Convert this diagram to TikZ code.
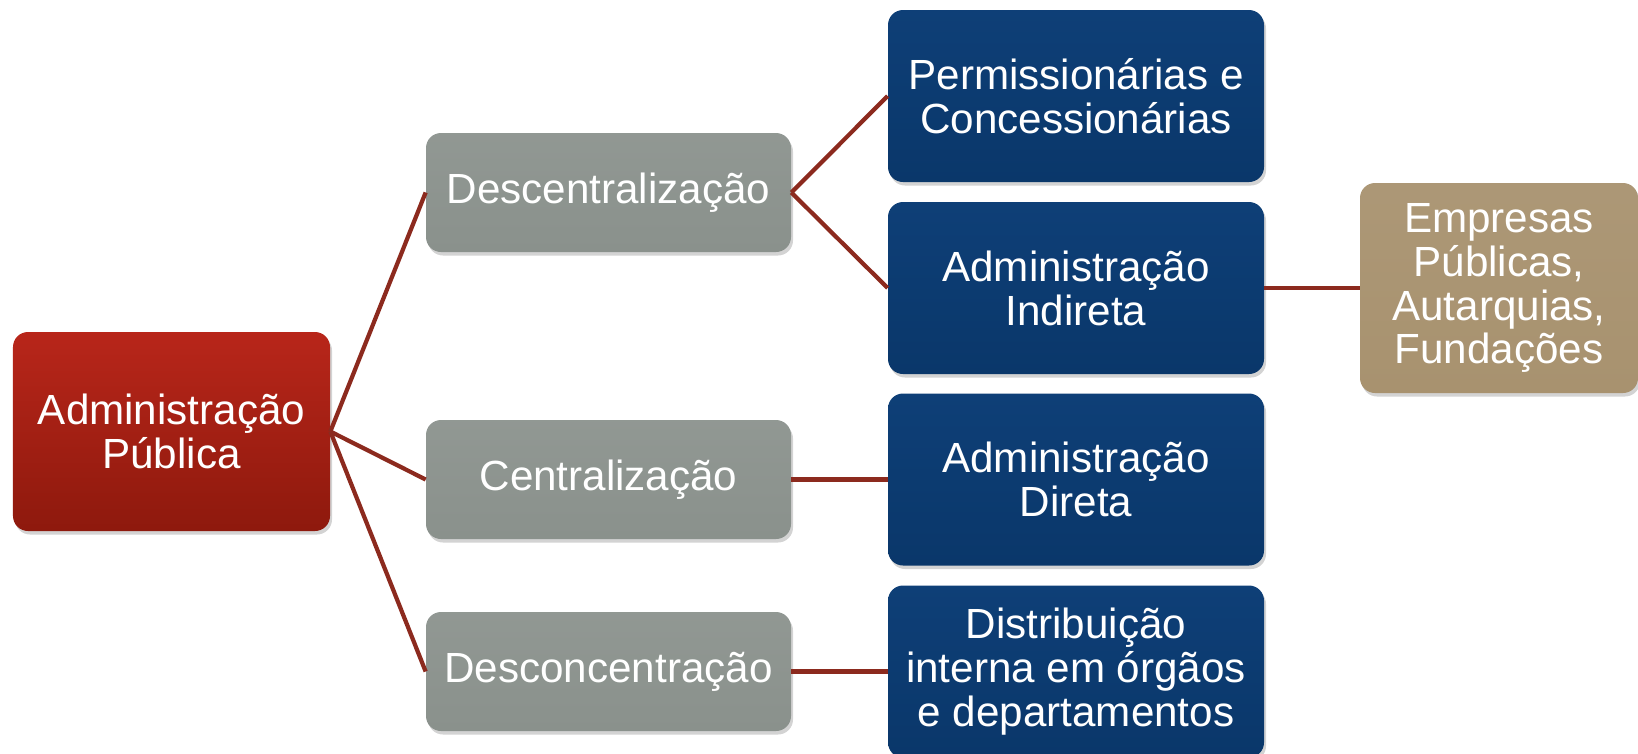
\documentclass[tikz,border=0pt]{standalone}
\usepackage{fontspec}
\setmainfont{Liberation Sans}
\usepackage{xcolor}
\usetikzlibrary{positioning,shadows}

\definecolor{redtop}{HTML}{B8261A}
\definecolor{redbot}{HTML}{8E190D}
\definecolor{graybox}{HTML}{8A918C}
\definecolor{bluetop}{HTML}{0E3F77}
\definecolor{bluebot}{HTML}{0A376A}
\definecolor{tanbox}{HTML}{A8926F}
\definecolor{linkred}{HTML}{8C2A1E}

\tikzset{
  box/.style={rounded corners=0.3cm, text=white, align=center, inner sep=0pt,
    font=\fontsize{24}{25}\selectfont,
    drop shadow={opacity=0.35, shadow xshift=0.04cm, shadow yshift=-0.07cm}},
  rootbox/.style={box, top color=redtop, bottom color=redbot,
    minimum width=6.34cm, minimum height=3.98cm},
  midbox/.style={box, top color=graybox!94!white, bottom color=graybox,
    minimum width=7.30cm, minimum height=2.38cm},
  leafbox/.style={box, top color=bluetop, bottom color=bluebot,
    minimum width=7.52cm, minimum height=3.44cm},
  tanleaf/.style={box, top color=tanbox!95!white, bottom color=tanbox,
    minimum width=5.56cm, minimum height=4.20cm},
  link/.style={draw=linkred, line width=2.4pt}
}

\begin{document}
\begin{tikzpicture}
\useasboundingbox (0,0) rectangle (32.76,-15.06);
% Root
\node[rootbox] (adm) at (3.43,-8.63) {Administração\\Pública};
% Middle column
\node[midbox] (desc) at (12.17,-3.85) {Descentralização};
\node[midbox] (cent) at (12.17,-9.59) {Centralização};
\node[midbox] (desconc) at (12.17,-13.43) {Desconcentração};
% Right column
\node[leafbox] (perm) at (21.52,-1.92) {Permissionárias e\\Concessionárias};
\node[leafbox] (indir) at (21.52,-5.76) {Administração\\Indireta};
\node[leafbox] (dir) at (21.52,-9.59) {Administração\\Direta};
\node[leafbox] (distr) at (21.52,-13.43) {Distribuição\\interna em órgãos\\e departamentos};
% Far right
\node[tanleaf] (emp) at (29.98,-5.76) {Empresas\\Públicas,\\Autarquias,\\Fundações};
% Links
\draw[link] (adm.east) -- (desc.west);
\draw[link] (adm.east) -- (cent.west);
\draw[link] (adm.east) -- (desconc.west);
\draw[link] (desc.east) -- (perm.west);
\draw[link] (desc.east) -- (indir.west);
\draw[link] (cent.east) -- (dir.west);
\draw[link] (desconc.east) -- (distr.west);
\draw[link] (indir.east) -- (emp.west);
\end{tikzpicture}
\end{document}
